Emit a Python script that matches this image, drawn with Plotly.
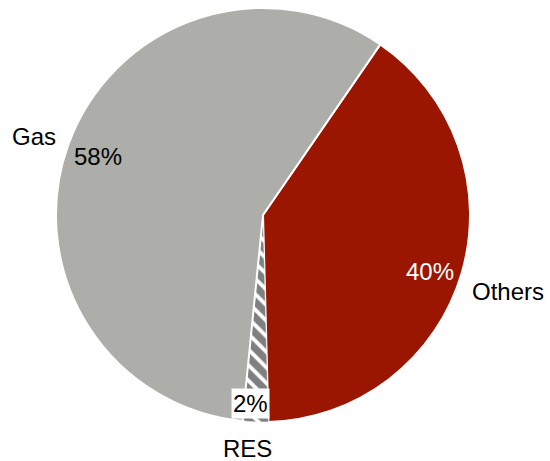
import plotly.graph_objects as go

# Generation mix shares (%)
labels = ["Others", "RES", "Gas"]
shares = [40, 2, 58]
colors = ["#9B1600", "#FFFFFF", "#ADADA9"]

W, H = 550, 461
ML, MR, MT, MB = 0, 24, 8, 39

fig = go.Figure(go.Pie(
    labels=labels,
    values=shares,
    sort=False,
    direction="clockwise",
    rotation=34.5,
    textinfo="none",
    hoverinfo="label+percent",
    marker=dict(
        colors=colors,
        line=dict(color="white", width=[2, 0.5, 2]),
        pattern=dict(shape=["", "\\", ""], fgcolor="black", bgcolor="white",
                     size=11, solidity=0.65, fillmode="overlay"),
    ),
    showlegend=False,
))


def px(x, y):
    """Convert pixel coordinates to paper coordinates of the plot area."""
    pw, ph = W - ML - MR, H - MT - MB
    return (x - ML) / pw, 1 - (y - MT) / ph


share_of = dict(zip(labels, shares))
font = dict(family="Liberation Sans, Arial, sans-serif", size=24, color="black")

notes = [
    # text, x, y, colour, boxed
    ("Gas", 34, 136, "black", False),
    (f"{share_of['Gas']}%", 98, 156, "black", False),
    (f"{share_of['Others']}%", 430, 271, "white", False),
    ("Others", 508, 291, "black", False),
    (f"{share_of['RES']}%", 250, 403, "black", True),
    ("RES", 247, 448, "black", False),
]

annotations = []
for text, x, y, col, boxed in notes:
    ax, ay = px(x, y)
    a = dict(text=text, x=ax, y=ay, xref="paper", yref="paper",
             showarrow=False, xanchor="center", yanchor="middle",
             font=dict(font, color=col))
    if boxed:
        a.update(bgcolor="white", borderpad=1)
    annotations.append(a)

fig.update_layout(
    width=W, height=H,
    margin=dict(l=ML, r=MR, t=MT, b=MB),
    paper_bgcolor="white",
    plot_bgcolor="white",
    annotations=annotations,
)

fig.write_html("out.html")
